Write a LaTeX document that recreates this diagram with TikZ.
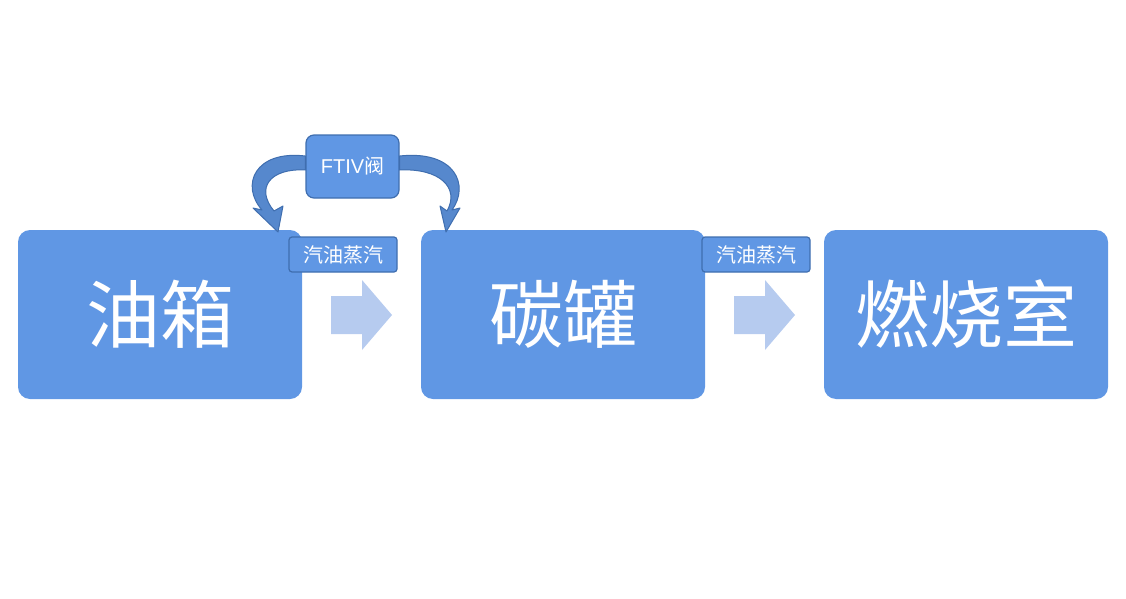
\documentclass[tikz,border=0pt]{standalone}
\usepackage{fontspec}
\newfontfamily\cjk{Noto Sans CJK SC}
\begin{document}
\definecolor{boxc}{HTML}{6097E4}
\definecolor{edge}{HTML}{3F6EAF}
\definecolor{light}{HTML}{B6CBEF}
\begin{tikzpicture}[x=1pt,y=-1pt,
 big/.style={fill=boxc,rounded corners=12pt,minimum width=284pt,minimum height=169pt,text=white,font=\cjk\fontsize{74}{80}\selectfont,inner sep=0pt},
 lab/.style={fill=boxc,draw=edge,line width=1.2pt,rounded corners=3pt,minimum width=108pt,minimum height=35pt,text=white,font=\cjk\fontsize{20}{22}\selectfont,inner sep=0pt},
 curv/.style={fill=boxc!90!black,draw=edge,line width=1pt,line join=round}]
\useasboundingbox (0,0) rectangle (1126,599);
\node[big] (a) at (160,314.5) {油箱};
\node[big] (b) at (563,314.5) {碳罐};
\node[big] (c) at (966,314.5) {燃烧室};
\node[lab] (l1) at (343,254.5) {汽油蒸汽};
\node[lab] (l2) at (756,254.5) {汽油蒸汽};
\node[lab,minimum width=93pt,minimum height=63pt,rounded corners=8pt,font=\fontspec{Liberation Sans}\fontsize{20}{22}\selectfont] (f) at (352.5,166.5) {FTIV{\cjk 阀}};
\fill[light] (331,296) -- (362,296) -- (362,280) -- (392,315) -- (362,350) -- (362,334) -- (331,334) -- cycle;
\fill[light] (734,296) -- (765,296) -- (765,280) -- (795,315) -- (765,350) -- (765,334) -- (734,334) -- cycle;
\draw[curv] (f.west |- 0,156) .. controls (255,150) and (240,185) .. (262,210) -- (253,208) -- (278,232) -- (283,206) -- (274,211)
  .. controls (255,188) and (270,168) .. (f.west |- 0,170) -- cycle;
\draw[curv] (f.east |- 0,156) .. controls (455,150) and (470,185) .. (452,210) -- (460,208) -- (446,232) -- (440,206) -- (447,211)
  .. controls (460,188) and (440,168) .. (f.east |- 0,170) -- cycle;
\end{tikzpicture}
\end{document}
